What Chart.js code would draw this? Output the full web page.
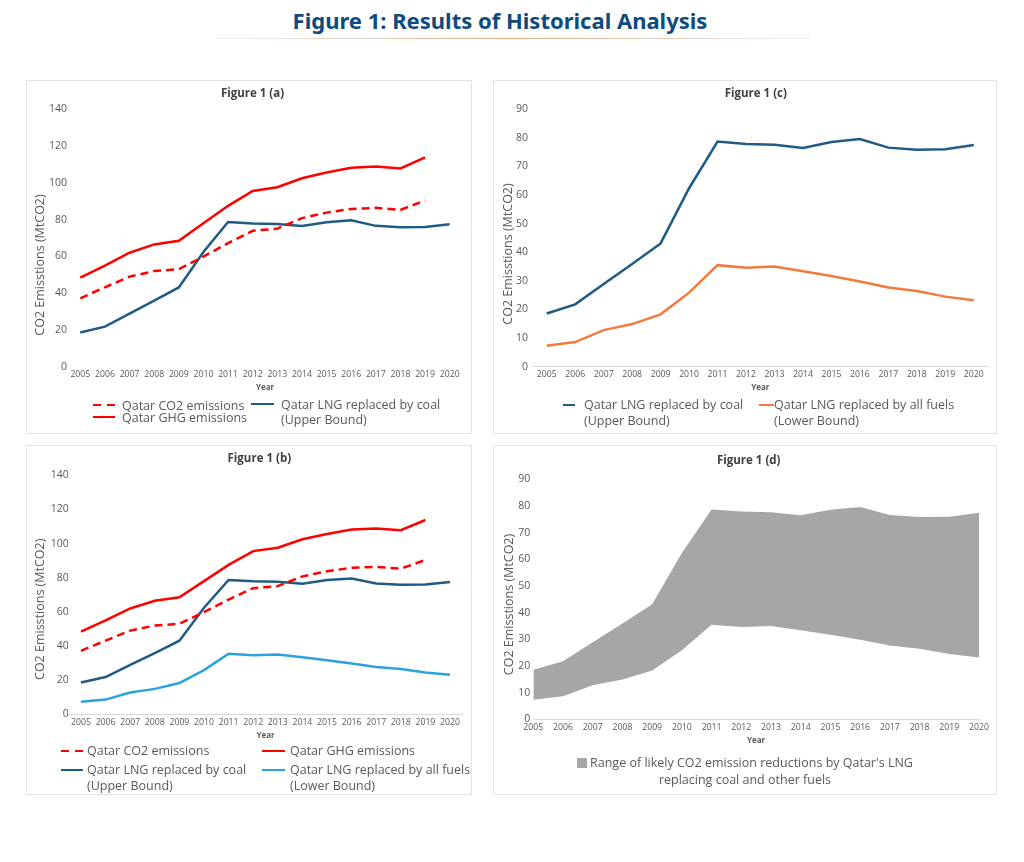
<!DOCTYPE html>
<html>
<head>
<meta charset="utf-8">
<script src="https://cdn.jsdelivr.net/npm/chart.js@4.4.0/dist/chart.umd.min.js"></script>
<style>
  body { margin: 0; background: #fff; width: 1024px; height: 862px; position: relative; overflow: hidden; font-family: "Open Sans", sans-serif; }
  #title { position: absolute; left: -12px; width: 1024px; top: 5px; text-align: center; font: 700 22px "Noto Sans", sans-serif; color: #0d4a7e; }
  #rule { position: absolute; left: 215px; width: 595px; top: 38px; height: 1px;
          background: linear-gradient(to right, rgba(215,215,215,0.35), #d9ab84 50%, rgba(215,215,215,0.35)); }
  .panel { position: absolute; box-sizing: border-box; border: 1px solid #e3e3e3; }
  .panel canvas { position: absolute; left: -1px; top: -1px; }
  .legtxt { position: absolute; font-size: 12.5px; color: #595959; white-space: nowrap; }
  .legsw { position: absolute; height: 2.5px; }
  .legd { position: absolute; left: 0; width: 100%; text-align: center; font-size: 12.5px; color: #595959; line-height: 17px; }
  .sq { display: inline-block; width: 10px; height: 10px; background: #a6a6a6; margin-right: 3px; vertical-align: -1px; }
</style>
</head>
<body>
<div id="title">Figure 1: Results of Historical Analysis</div>
<div id="rule"></div>
<div class="panel" id="pa"><canvas id="ca"></canvas></div>
<div class="panel" id="pc"><canvas id="cc"></canvas></div>
<div class="panel" id="pb"><canvas id="cb"></canvas></div>
<div class="panel" id="pd"><canvas id="cd"></canvas></div>
<script>
const years = ["2005", "2006", "2007", "2008", "2009", "2010", "2011", "2012",
  "2013", "2014", "2015", "2016", "2017", "2018", "2019", "2020"];

// MtCO2
const co2Emissions = [37.2, 43.2, 49, 52, 53, 59.9, 67.2, 73.9, 75.1, 80.8, 83.8, 85.8, 86.4, 85.3, 90.4, null];
const ghgEmissions = [48.4, 55, 62, 66.5, 68.5, 78, 87.5, 95.6, 97.6, 102.5, 105.6, 108.2, 108.9, 107.8, 113.8, null];
const lngVsCoal = [18.6, 21.8, 28.9, 35.9, 43.1, 62.4, 78.7, 77.9, 77.6, 76.5, 78.6, 79.6, 76.6, 75.9, 76, 77.5];
const lngVsAllFuels = [7.3, 8.6, 12.8, 14.9, 18.3, 25.9, 35.5, 34.6, 35, 33.4, 31.7, 29.8, 27.7, 26.5, 24.5, 23.2];

const nameCO2 = ["Qatar CO2 emissions"];
const nameGHG = ["Qatar GHG emissions"];
const nameCoal = ["Qatar LNG replaced by coal", "(Upper Bound)"];
const nameAll = ["Qatar LNG replaced by all fuels", "(Lower Bound)"];
const nameRange = ["Range of likely CO2 emission reductions by Qatar's LNG", "replacing coal and other fuels"];
const yAxisTitle = "CO2 Emisstions (MtCO2)";

const yTicksBig = { max: 140, step: 20 };
const yTicksSmall = { max: 90, step: 10 };

const RED = "#ff0000";
const NAVY = "#1f5b83";
const ORANGE = "#f27a3e";
const SKY = "#2aa3dd";
const GREY = "#a6a6a6";
const TXT = "#595959";
const FONT = "'Open Sans'";

// panel heading + rotated y title, placed where the original has them
const panelText = {
  id: "panelText",
  afterDraw(chart, args, o) {
    const ctx = chart.ctx;
    ctx.save();
    ctx.textAlign = "center";
    ctx.textBaseline = "middle";
    ctx.fillStyle = "#404040";
    ctx.font = `bold 11.5px ${FONT}`;
    ctx.fillText(o.title, o.titleX, o.titleY);
    ctx.translate(o.yTitleX, o.yTitleY);
    ctx.rotate(-Math.PI / 2);
    ctx.fillStyle = TXT;
    ctx.font = `12.5px ${FONT}`;
    ctx.fillText(yAxisTitle, 0, 0);
    ctx.restore();
  },
};

function line(label, data, color, dashed) {
  return {
    label: label.join(" "),
    legendLines: label,
    data,
    borderColor: color,
    backgroundColor: color,
    borderWidth: 2.5,
    borderDash: dashed ? [8, 5] : [],
    pointRadius: 0,
    tension: 0,
    fill: false,
  };
}

function makeChart(canvasId, box, title, datasets, ticks) {
  const canvas = document.getElementById(canvasId);
  const panel = canvas.parentElement;
  panel.style.left = box.left + "px";
  panel.style.top = box.top + "px";
  panel.style.width = box.w + "px";
  panel.style.height = box.h + "px";
  canvas.width = box.w;
  canvas.height = box.h;
  canvas.style.width = box.w + "px";
  canvas.style.height = box.h + "px";

  const xAxisH = 26;

  return new Chart(canvas, {
    type: "line",
    data: { labels: years, datasets },
    plugins: [panelText],
    options: {
      responsive: false,
      animation: false,
      layout: {
        padding: { left: 0, right: box.w - box.plot.r, top: box.plot.t, bottom: box.h - box.plot.b - xAxisH },
      },
      plugins: {
        legend: { display: false },
        tooltip: { enabled: false },
        panelText: { title, titleX: box.titleX, titleY: box.titleY, yTitleX: box.yTitleX, yTitleY: box.yTitleY },
      },
      scales: {
        x: {
          offset: box.offset,
          grid: { display: false, drawTicks: false },
          border: { display: box.axisLine, color: "#d9d9d9", width: 1 },
          ticks: { color: TXT, font: { family: "Open Sans", size: 8.7 }, padding: 3, autoSkip: false, maxRotation: 0 },
          title: { display: true, text: "Year", color: TXT, padding: 0, font: { family: "Open Sans", size: 8, weight: "bold" } },
          afterFit: (scale) => { scale.height = xAxisH; },
        },
        y: {
          min: 0,
          max: ticks.max,
          grid: { display: false, drawTicks: false },
          border: { display: false },
          ticks: { stepSize: ticks.step, color: TXT, font: { family: "Open Sans", size: 10.5 }, padding: box.yTickPad },
          afterFit: (scale) => { scale.width = box.plot.l; },
        },
      },
    },
  });
}

function addLegend(panelId, items) {
  const panel = document.getElementById(panelId);
  items.forEach((it) => {
    const ds = it.ds;
    const sw = document.createElement("div");
    sw.className = "legsw";
    sw.style.left = it.sx + "px";
    sw.style.width = it.sw + "px";
    sw.style.top = it.y - 1.25 + "px";
    sw.style.background = ds.borderDash.length
      ? `repeating-linear-gradient(to right, ${ds.borderColor} 0 8px, transparent 8px 14px)`
      : ds.borderColor;
    panel.appendChild(sw);

    const txt = document.createElement("div");
    txt.className = "legtxt";
    txt.style.left = it.tx + "px";
    txt.style.top = it.y - it.lh / 2 + "px";
    txt.style.lineHeight = it.lh + "px";
    txt.innerHTML = ds.legendLines.join("<br>");
    panel.appendChild(txt);
  });
}

// Figure 1 (a)
const aCO2 = line(nameCO2, co2Emissions, RED, true);
const aGHG = line(nameGHG, ghgEmissions, RED, false);
const aCoal = line(nameCoal, lngVsCoal, NAVY, false);
makeChart("ca",
  { left: 26, top: 80, w: 446, h: 354, plot: { l: 42, r: 436, t: 29.3, b: 286.7 },
    titleX: 226.5, titleY: 13.3, yTitleX: 14.7, yTitleY: 185, yTickPad: 1, offset: true, axisLine: false },
  "Figure 1 (a)", [aCO2, aGHG, aCoal], yTicksBig);
addLegend("pa", [
  { ds: aCO2, sx: 66, sw: 22, y: 324, tx: 95, lh: 15 },
  { ds: aGHG, sx: 66, sw: 22, y: 336, tx: 95, lh: 15 },
  { ds: aCoal, sx: 224, sw: 23, y: 323, tx: 254, lh: 15 },
]);

// Figure 1 (c)
const cCoal = line(nameCoal, lngVsCoal, NAVY, false);
const cAll = line(nameAll, lngVsAllFuels, ORANGE, false);
makeChart("cc",
  { left: 493, top: 80, w: 504, h: 354, plot: { l: 39.5, r: 495, t: 29.3, b: 286.7 },
    titleX: 262.8, titleY: 13.3, yTitleX: 15, yTitleY: 174, yTickPad: 4.5, offset: true, axisLine: true },
  "Figure 1 (c)", [cCoal, cAll], yTicksSmall);
addLegend("pc", [
  { ds: cCoal, sx: 69, sw: 12, y: 324, tx: 90, lh: 16 },
  { ds: cAll, sx: 265, sw: 15, y: 324, tx: 280, lh: 16 },
]);

// Figure 1 (b)
const bCO2 = line(nameCO2, co2Emissions, RED, true);
const bGHG = line(nameGHG, ghgEmissions, RED, false);
const bCoal = line(nameCoal, lngVsCoal, NAVY, false);
const bAll = line(nameAll, lngVsAllFuels, SKY, false);
makeChart("cb",
  { left: 26, top: 445, w: 446, h: 350, plot: { l: 42.7, r: 436.3, t: 30.3, b: 269.3 },
    titleX: 233.3, titleY: 13.3, yTitleX: 14.7, yTitleY: 164.3, yTickPad: 0, offset: true, axisLine: true },
  "Figure 1 (b)", [bCO2, bGHG, bCoal, bAll], yTicksBig);
addLegend("pb", [
  { ds: bCO2, sx: 34, sw: 22, y: 305, tx: 60, lh: 16 },
  { ds: bGHG, sx: 235, sw: 23, y: 305, tx: 263, lh: 16 },
  { ds: bCoal, sx: 34, sw: 22, y: 324, tx: 60, lh: 16 },
  { ds: bAll, sx: 235, sw: 23, y: 324, tx: 263, lh: 16 },
]);

// Figure 1 (d): shaded band between the two bounds
const dUpper = Object.assign(line(nameRange, lngVsCoal, "rgba(0,0,0,0)", false),
  { borderWidth: 0, backgroundColor: GREY, fill: "+1" });
const dLower = Object.assign(line(nameAll, lngVsAllFuels, "rgba(0,0,0,0)", false), { borderWidth: 0 });
makeChart("cd",
  { left: 493, top: 445, w: 504, h: 350, plot: { l: 40.3, r: 486, t: 34.3, b: 274.3 },
    titleX: 255.7, titleY: 15.7, yTitleX: 16.3, yTitleY: 159.5, yTickPad: 3, offset: false, axisLine: true },
  "Figure 1 (d)", [dUpper, dLower], yTicksSmall);
const dLeg = document.createElement("div");
dLeg.className = "legd";
dLeg.style.top = 316 - 8.5 + "px";
dLeg.innerHTML = '<span class="sq"></span>' + nameRange.join("<br>");
document.getElementById("pd").appendChild(dLeg);
</script>
</body>
</html>
